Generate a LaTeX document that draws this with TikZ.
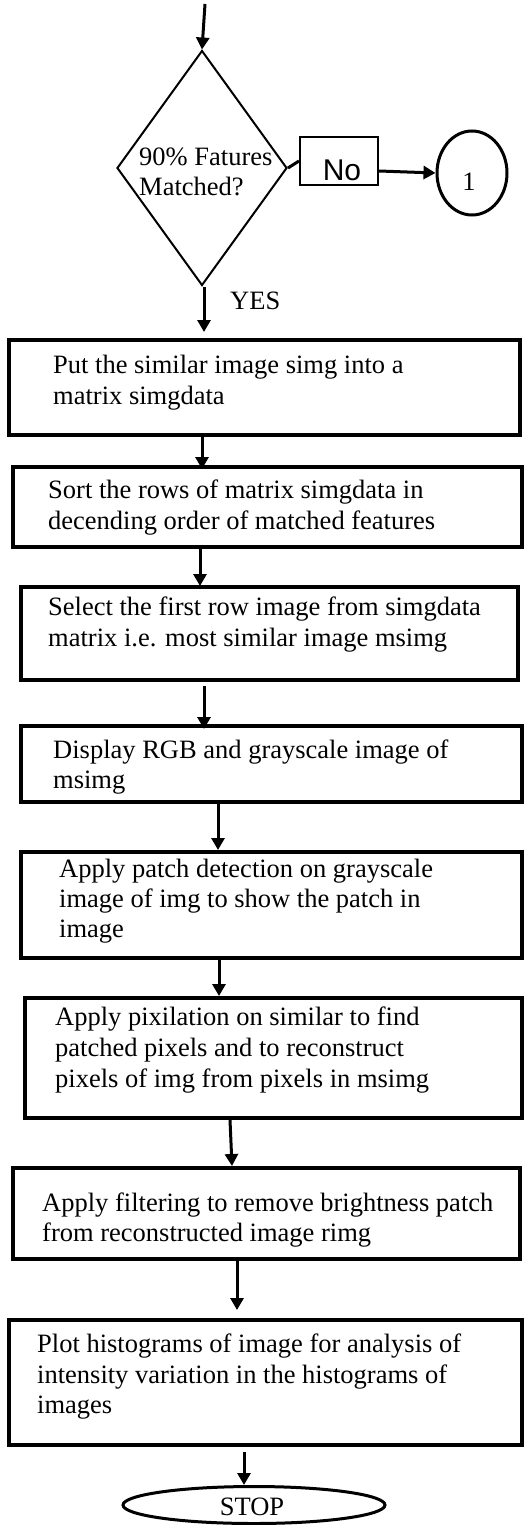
\documentclass[tikz,border=0pt]{standalone}
\usepackage{fontspec}
\setmainfont{Liberation Serif}
\newfontfamily\nofont{Liberation Sans}
\usetikzlibrary{shapes.geometric,arrows.meta}
\begin{document}
\begin{tikzpicture}[x=1pt,y=-1pt,
  box/.style={draw,line width=4pt,rectangle,inner sep=0pt},
  txt/.style={anchor=base west,inner sep=0pt,font=\fontsize{26.5}{30}\selectfont},
  arr/.style={line width=3pt,-{Triangle[length=12pt,width=13pt]}},
  thinbox/.style={draw,line width=2pt,inner sep=0pt}]
\useasboundingbox (0,0) rectangle (528,1525);
% decision
\coordinate (top) at (205,4);
\node[thinbox,diamond,minimum width=170pt,minimum height=235pt] (d) at (202,168) {};
\node[txt] (dt1) at (139,166) {90\% Fatures};
\node[txt] (dt2) at (139,196) {Matched?};
\node[thinbox,minimum width=78pt,minimum height=48pt] (no) at (339,161) {};
\node[anchor=base,inner sep=0pt,font=\nofont\fontsize{30}{34}\selectfont] (not) at (342,181) {No};
\node[draw,ellipse,line width=3pt,minimum width=70pt,minimum height=84pt,inner sep=0pt] (c1) at (472,173) {};
\node[anchor=base,inner sep=0pt,font=\fontsize{26.5}{30}\selectfont] (c1t) at (469,190) {1};
\node[txt] (yes) at (230,309) {YES};
% boxes
\node[box,minimum width=511pt,minimum height=95pt] (b1) at (264.5,387.5) {};
\node[txt] (t1a) at (53,373) {Put the similar image simg into a};
\node[txt] (t1b) at (53,404) {matrix simgdata};
\node[box,minimum width=509pt,minimum height=80pt] (b2) at (267.5,507) {};
\node[txt] (t2a) at (48,498) {Sort the rows of matrix simgdata in};
\node[txt] (t2b) at (48,529) {decending order of matched features};
\node[box,minimum width=497pt,minimum height=93pt] (b3) at (269.5,633.5) {};
\node[txt] (t3a) at (48,615) {Select the first row image from simgdata};
\node[txt] (t3b) at (48,646) {matrix i.e. most similar image msimg};
\node[box,minimum width=501pt,minimum height=76pt] (b4) at (271.5,764) {};
\node[txt] (t4a) at (53,758) {Display RGB and grayscale image of};
\node[txt] (t4b) at (53,788) {msimg};
\node[box,minimum width=501pt,minimum height=106pt] (b5) at (271.5,905) {};
\node[txt] (t5a) at (59,877) {Apply patch detection on grayscale};
\node[txt] (t5b) at (59,907) {image of img to show the patch in};
\node[txt] (t5c) at (59,937) {image};
\node[box,minimum width=497pt,minimum height=120pt] (b6) at (273.5,1058) {};
\node[txt] (t6a) at (55,1025) {Apply pixilation on similar to find};
\node[txt] (t6b) at (55,1056) {patched pixels and to reconstruct};
\node[txt] (t6c) at (55,1087) {pixels of img from pixels in msimg};
\node[box,minimum width=507pt,minimum height=91pt] (b7) at (266.5,1213.5) {};
\node[txt] (t7a) at (42,1211) {Apply filtering to remove brightness patch};
\node[txt] (t7b) at (42,1241) {from reconstructed image rimg};
\node[box,minimum width=513pt,minimum height=125pt] (b8) at (265.5,1382.5) {};
\node[txt] (t8a) at (37,1352) {Plot histograms of image for analysis of};
\node[txt] (t8b) at (37,1383) {intensity variation in the histograms of};
\node[txt] (t8c) at (37,1413) {images};
\node[draw,ellipse,line width=3pt,minimum width=262pt,minimum height=37pt,inner sep=0pt] (stop) at (254,1505) {};
\node[anchor=base,inner sep=0pt,font=\fontsize{26.5}{30}\selectfont] (stopt) at (252,1515) {STOP};
% connectors
\draw[arr] (top) -- (d.north);
\draw[line width=3pt] (d.east) -- (no.west);
\draw[arr] ([yshift=-10pt]no.east) -- (c1.west);
\draw[arr,shorten >=6pt] ([xshift=2pt]d.south) -- ([xshift=2pt]d.south |- b1.north);
\draw[arr,shorten >=-4pt] ([xshift=-62.5pt]b1.south) -- ([xshift=-62.5pt]b1.south |- b2.north);
\draw[arr,shorten >=-1pt] ([xshift=-67.5pt]b2.south) -- ([xshift=-67.5pt]b2.south |- b3.north);
\draw[arr,shorten <=4pt,shorten >=-5pt] ([xshift=-65.5pt]b3.south) -- ([xshift=-65.5pt]b3.south |- b4.north);
\draw[arr] ([xshift=-53.5pt]b4.south) -- ([xshift=-53.5pt]b4.south |- b5.north);
\draw[arr] ([xshift=-52.5pt]b5.south) -- ([xshift=-52.5pt]b5.south |- b6.north);
\draw[arr] ([xshift=-43.5pt]b6.south) -- ([xshift=-34.5pt]b7.north);
\draw[arr,shorten >=8pt] ([xshift=-29.5pt]b7.south) -- ([xshift=-29.5pt]b7.south |- b8.north);
\draw[arr,shorten <=5pt] ([xshift=-21.5pt]b8.south) -- ([xshift=-21.5pt]b8.south |- stop.north);
\end{tikzpicture}
\end{document}
